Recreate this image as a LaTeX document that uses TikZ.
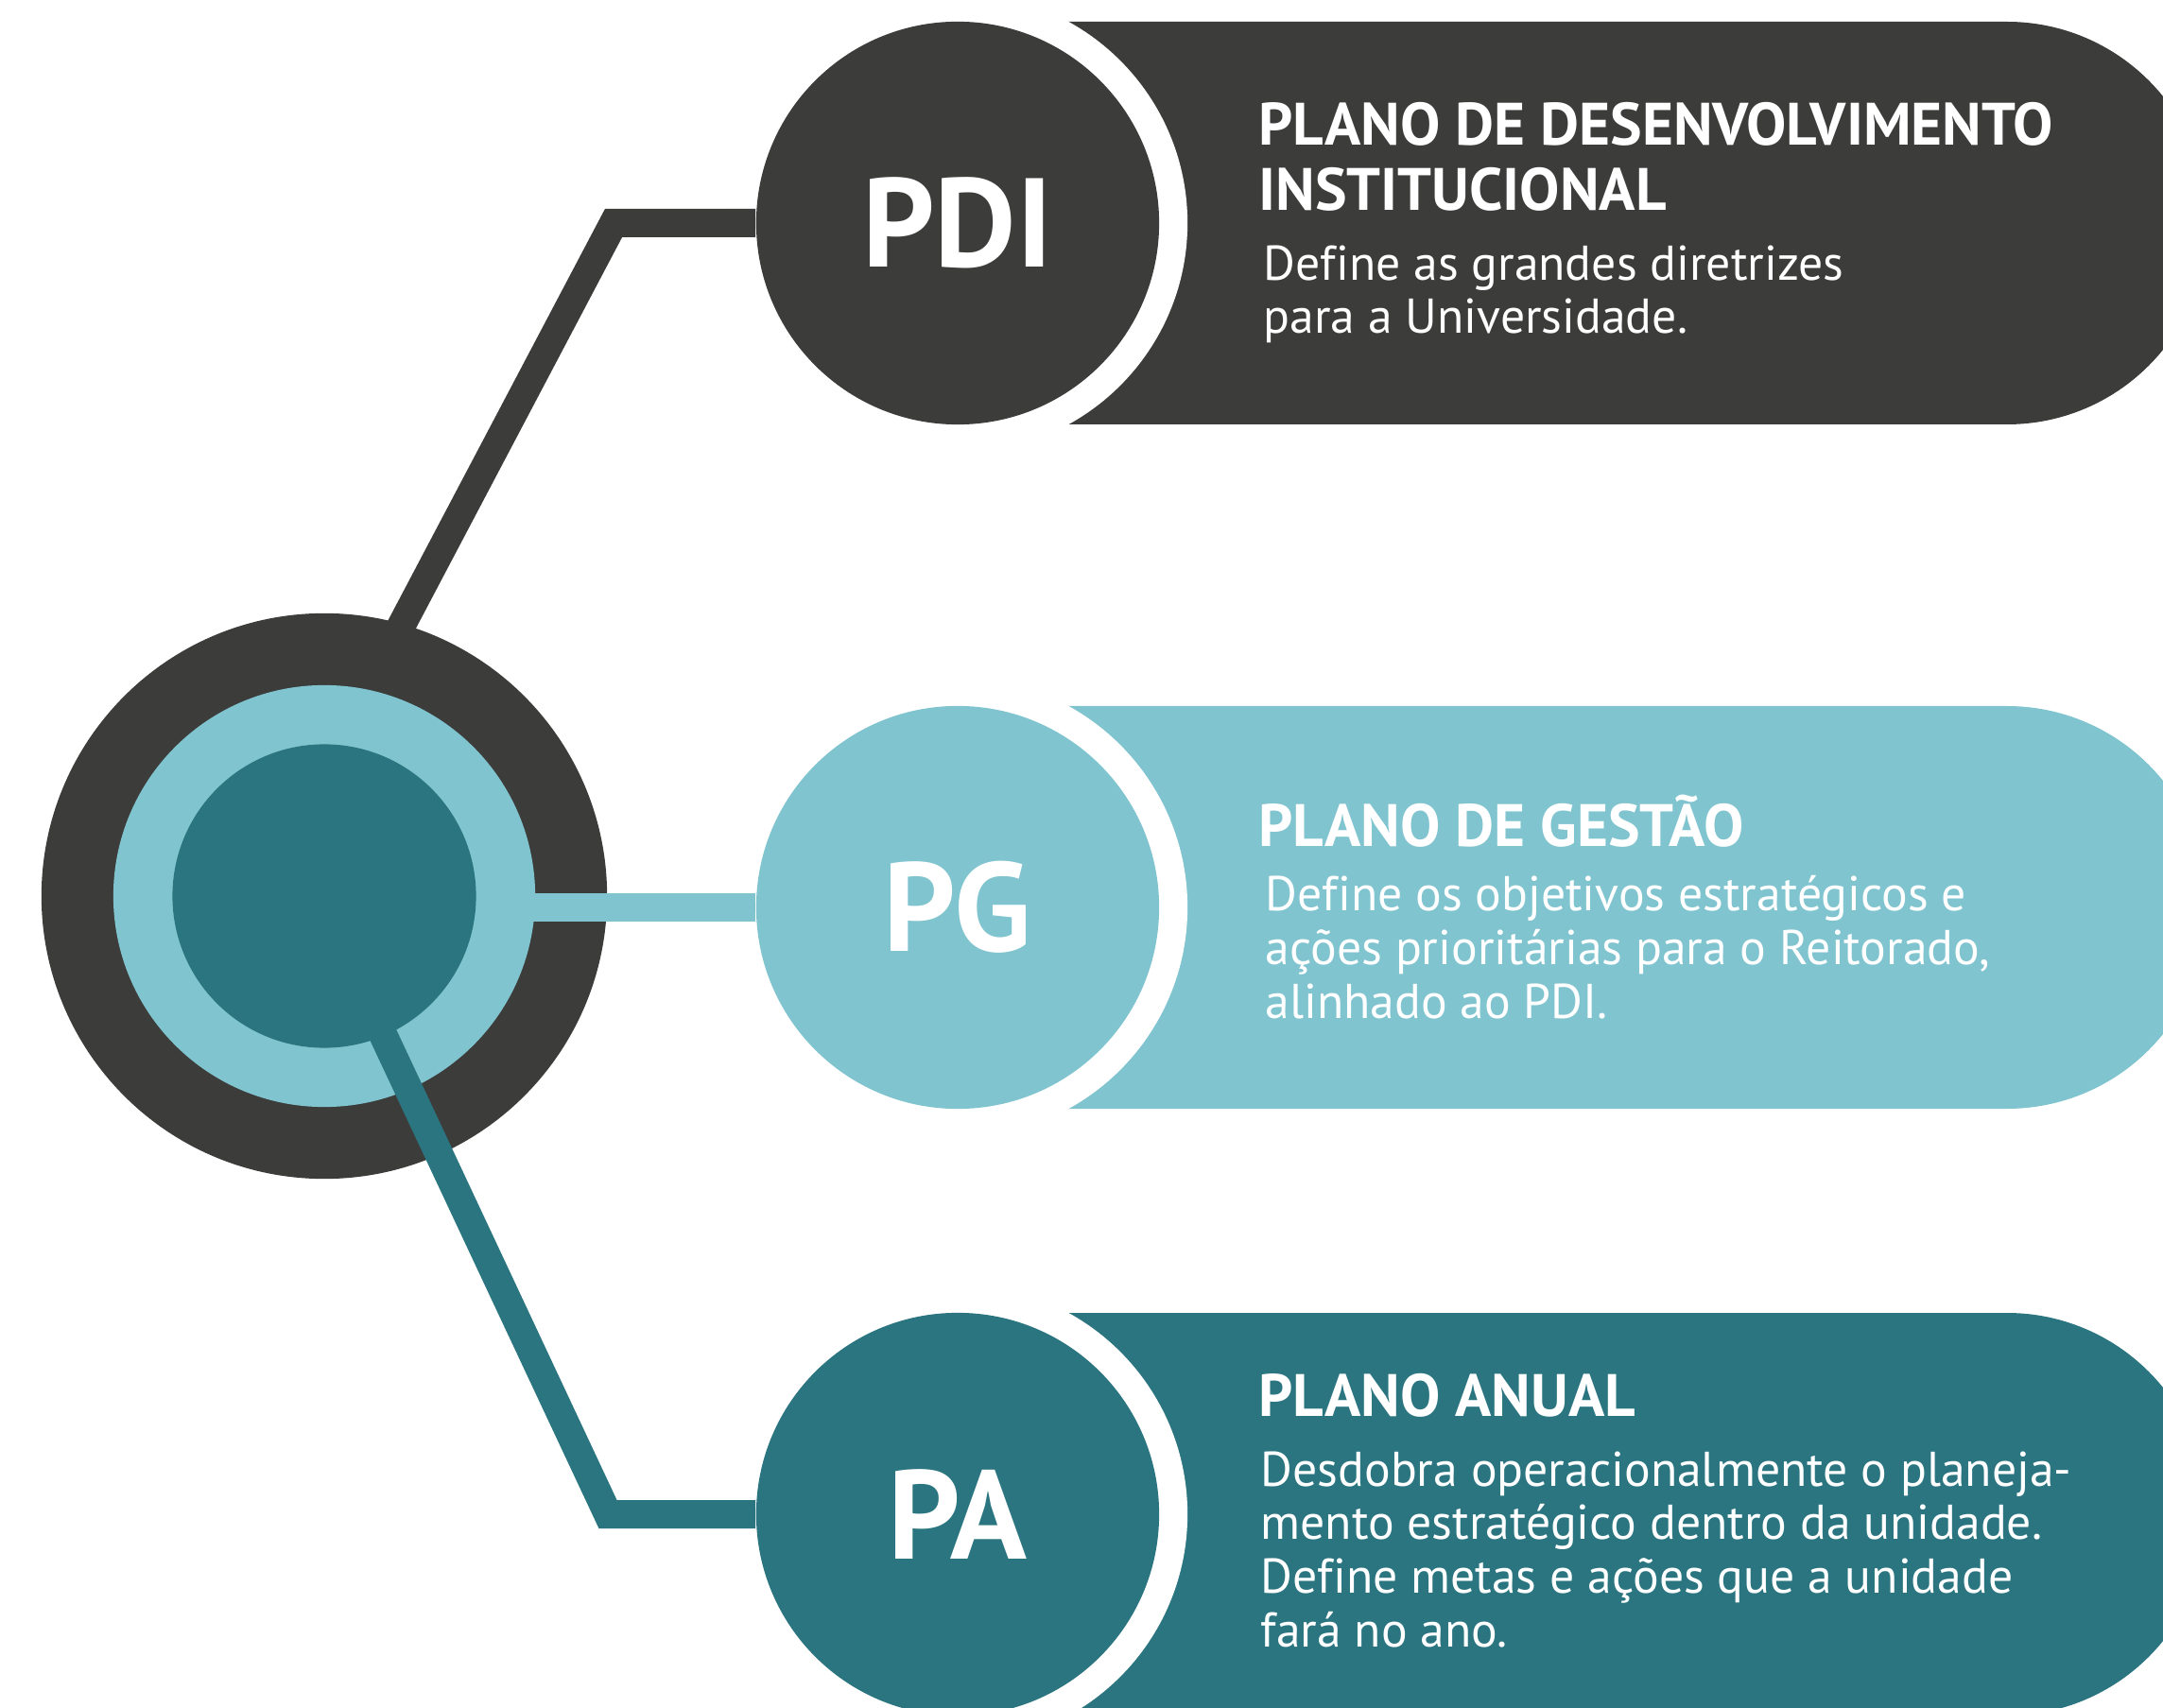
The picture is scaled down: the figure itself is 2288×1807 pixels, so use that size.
\documentclass[tikz,border=0pt]{standalone}
\usepackage{fontspec}
\setmainfont{PT Sans}[Ligatures=NoCommon]
\definecolor{plandark}{HTML}{3C3C3B}
\definecolor{planlight}{HTML}{80C4CF}
\definecolor{planteal}{HTML}{2A7580}

\begin{document}
\begin{tikzpicture}[x=0.01cm,y=-0.01cm,
    plan node/.style={circle,fill=#1,inner sep=0pt,minimum size=4.26cm,text=white,font=\bfseries\fontsize{38}{38}\selectfont},
    hub node/.style={circle,fill=#1,inner sep=0pt},
    link/.style={line width=0.3cm,draw=#1},
    title text/.style={anchor=north west,inner sep=0pt,align=left,text=white,font=\bfseries\fontsize{18}{19.5}\selectfont},
    body text/.style={anchor=north west,inner sep=0pt,align=left,text=white,font=\fontsize{14.7}{16.1}\selectfont}]
    \useasboundingbox (0,0) rectangle (2288,1807);
    \clip (0,0) rectangle (2288,1807);

    % capsules behind the plan circles
    \fill[plandark] (1013,23) [rounded corners=2.12cm] -- (2335,23) -- (2335,449) [sharp corners] -- (1013,449) -- cycle;
    \fill[planlight] (1013,747) [rounded corners=2.12cm] -- (2335,747) -- (2335,1173) [sharp corners] -- (1013,1173) -- cycle;
    \fill[planteal] (1013,1389) [rounded corners=2.12cm] -- (2335,1389) -- (2335,1815) [sharp corners] -- (1013,1815) -- cycle;
    \fill[white] (1013,236) circle[radius=2.43cm];
    \fill[white] (1013,960) circle[radius=2.43cm];
    \fill[white] (1013,1602) circle[radius=2.43cm];

    \node[plan node=plandark] (pdi) at (1013,236) {PDI};
    \node[plan node=planlight] (pg) at (1013,960) {PG};
    \node[plan node=planteal] (pa) at (1013,1602) {PA};

    \coordinate (pdibend) at (649,236);
    \coordinate (pabend) at (643,1602);

    % hub and links
    \node[hub node=plandark,minimum size=5.98cm] (hubout) at (343,948) {};
    \draw[link=plandark,shorten <=-0.1cm] (hubout.74) -- (pdibend) -- (pdi.west);
    \node[hub node=planlight,minimum size=4.46cm] (hubring) at (343,948) {};
    \draw[link=planlight,shorten >=-0.05cm] (pg.west) -- (pg.west -| hubring.east);
    \node[hub node=planteal,minimum size=3.21cm] (hubcore) at (343,948) {};
    \draw[link=planteal,shorten <=-0.1cm] (hubcore.-67) -- (pabend) -- (pa.west);

    % texts
    \node[title text] (pdititle) at (1331,108) {PLANO DE DESENVOLVIMENTO\\INSTITUCIONAL};
    \node[body text] (pditext) at (1336,259) {Define as grandes diretrizes\\para a Universidade.};
    \node[title text] (pgtitle) at (1331,840) {PLANO DE GESTÃO};
    \node[body text] (pgtext) at (1338,926) {Define os objetivos estratégicos e\\ações prioritárias para o Reitorado,\\alinhado ao PDI.};
    \node[title text] (patitle) at (1331,1453) {PLANO ANUAL};
    \node[body text] (patext) at (1333,1535) {Desdobra operacionalmente o planeja-\\mento estratégico dentro da unidade.\\Define metas e ações que a unidade\\fará no ano.};
\end{tikzpicture}
\end{document}
